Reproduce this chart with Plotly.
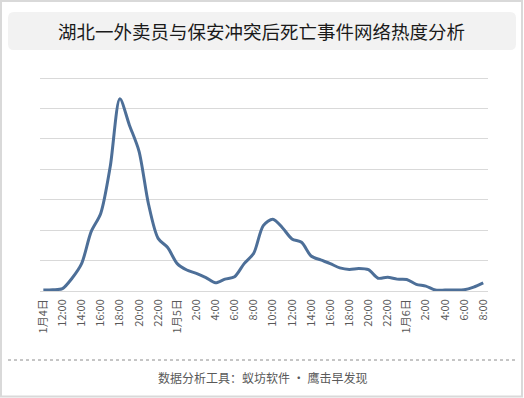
import plotly.graph_objects as go

# ---- data ----
tick_labels = ["1月4日", "12:00", "14:00", "16:00", "18:00", "20:00", "22:00",
               "1月5日", "2:00", "4:00", "6:00", "8:00", "10:00", "12:00", "14:00",
               "16:00", "18:00", "20:00", "22:00",
               "1月6日", "2:00", "4:00", "6:00", "8:00"]
heat = [3, 4, 8, 42, 90, 195, 255, 410, 632, 545, 460, 285, 173, 143, 90, 69,
        58, 44, 27, 39, 47, 90, 124, 215, 236, 208, 171, 160, 115, 102, 90, 76,
        71, 74, 70, 42, 45, 39, 38, 22, 16, 3, 3, 3, 4, 13, 27]
grid_values = [0, 100, 200, 300, 400, 500, 600, 700]
title_text = "湖北一外卖员与保安冲突后死亡事件网络热度分析"
footer_text = "数据分析工具：蚁坊软件 · 鹰击早发现"

W, H = 524, 398
L, R, T, B = 40, 36, 76, 107
PW, PH = W - L - R, H - T - B
YTOP = 700 * PH / 213.0


def px(x):
    return (x - L) / PW


def py(y):
    return (H - B - y) / PH


xs = list(range(len(heat)))

fig = go.Figure()
fig.add_trace(go.Scatter(
    x=xs, y=heat, mode="lines",
    line=dict(color="#4d6f98", width=3, shape="spline", smoothing=0.8),
    hoverinfo="skip", showlegend=False,
))


def rounded_rect(x0, y0, x1, y1, r):
    rx, ry = r / PW, r / PH
    X0, X1 = px(x0), px(x1)
    Y0, Y1 = py(y0), py(y1)
    return (f"M {X0+rx},{Y0} L {X1-rx},{Y0} Q {X1},{Y0} {X1},{Y0-ry} "
            f"L {X1},{Y1+ry} Q {X1},{Y1} {X1-rx},{Y1} L {X0+rx},{Y1} "
            f"Q {X0},{Y1} {X0},{Y1+ry} L {X0},{Y0-ry} Q {X0},{Y0} {X0+rx},{Y0} Z")


shapes = [
    dict(type="rect", xref="paper", yref="paper",
         x0=px(1), x1=px(522), y0=py(1), y1=py(396.5),
         line=dict(color="#d9d9d9", width=2), fillcolor="rgba(0,0,0,0)", layer="below"),
    dict(type="path", xref="paper", yref="paper",
         path=rounded_rect(8, 12, 516, 50, 6),
         fillcolor="#f2f2f2", line=dict(width=0), layer="below"),
    dict(type="line", xref="paper", yref="paper",
         x0=px(8), x1=px(516), y0=py(360), y1=py(360),
         line=dict(color="#8c8c8c", width=1, dash="dot")),
]

annotations = [
    dict(text=title_text, xref="paper", yref="paper", x=px(261), y=py(31),
         showarrow=False, xanchor="center", yanchor="middle",
         font=dict(family="Noto Sans CJK SC", size=18.5, color="#1a1a1a")),
    dict(text=footer_text, xref="paper", yref="paper", x=px(262), y=py(377),
         showarrow=False, xanchor="center", yanchor="middle",
         font=dict(family="Noto Sans CJK SC", size=12, color="#595959")),
]

fig.update_layout(
    width=W, height=H,
    margin=dict(l=L, r=R, t=T, b=B, pad=0),
    paper_bgcolor="white", plot_bgcolor="white",
    shapes=shapes, annotations=annotations,
    xaxis=dict(range=[-0.35, len(heat) - 1 + 0.5],
               tickmode="array", tickvals=xs[::2], ticktext=tick_labels,
               tickangle=-90, showgrid=False, zeroline=False, showline=False,
               ticks="", ticklabelstandoff=5,
               tickfont=dict(family="Noto Sans CJK SC", size=11, color="#595959"),
               fixedrange=True),
    yaxis=dict(range=[0, YTOP], tickmode="array", tickvals=grid_values,
               showticklabels=False, showgrid=True, gridcolor="#d9d9d9", gridwidth=1,
               zeroline=True, zerolinecolor="#d9d9d9", zerolinewidth=1, fixedrange=True),
)

fig.write_html("out.html", config={"displayModeBar": False},
               post_script="document.body.style.margin='0';document.body.style.overflow='hidden';")
